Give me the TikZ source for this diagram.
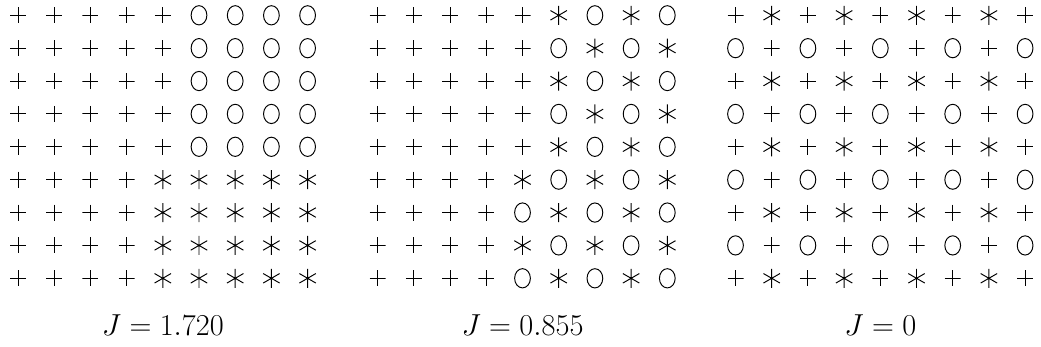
\documentclass[tikz,border=0pt]{standalone}
\usetikzlibrary{shapes.geometric}
\begin{document}
\begin{tikzpicture}[x=0.02cm,y=-0.02cm,
mk/.style={inner sep=0pt,outer sep=0pt,line width=0.55pt},
mp/.style={mk,minimum width=3.2mm,minimum height=3.2mm,
path picture={\draw[line width=0.55pt] (path picture bounding box.west)--(path picture bounding box.east)
(path picture bounding box.north)--(path picture bounding box.south);}},
mo/.style={mk,draw,ellipse,minimum width=3.15mm,minimum height=3.85mm},
ma/.style={mk,minimum width=3.4mm,minimum height=3.8mm,
path picture={\draw[line width=0.55pt,shift={(path picture bounding box.center)}]
(90:1.9mm)--(270:1.9mm) (30:1.9mm)--(210:1.9mm) (150:1.9mm)--(330:1.9mm);}},
lab/.style={anchor=base,font=\fontsize{18}{20}\selectfont}]
\useasboundingbox (0,0) rectangle (1041,347);
% J = 1.720
\foreach \row [count=\r] in {{mp,mp,mp,mp,mp,mo,mo,mo,mo},{mp,mp,mp,mp,mp,mo,mo,mo,mo},
{mp,mp,mp,mp,mp,mo,mo,mo,mo},{mp,mp,mp,mp,mp,mo,mo,mo,mo},{mp,mp,mp,mp,mp,mo,mo,mo,mo},
{mp,mp,mp,mp,ma,ma,ma,ma,ma},{mp,mp,mp,mp,ma,ma,ma,ma,ma},{mp,mp,mp,mp,ma,ma,ma,ma,ma},
{mp,mp,mp,mp,ma,ma,ma,ma,ma}}
\foreach \s [count=\c] in \row
\node[\s] (a-\r-\c) at ({18+(\c-1)*36.2},{15.3+(\r-1)*32.875}) {};
% J = 0.855
\foreach \row [count=\r] in {{mp,mp,mp,mp,mp,ma,mo,ma,mo},{mp,mp,mp,mp,mp,mo,ma,mo,ma},
{mp,mp,mp,mp,mp,ma,mo,ma,mo},{mp,mp,mp,mp,mp,mo,ma,mo,ma},{mp,mp,mp,mp,mp,ma,mo,ma,mo},
{mp,mp,mp,mp,ma,mo,ma,mo,ma},{mp,mp,mp,mp,mo,ma,mo,ma,mo},{mp,mp,mp,mp,ma,mo,ma,mo,ma},
{mp,mp,mp,mp,mo,ma,mo,ma,mo}}
\foreach \s [count=\c] in \row
\node[\s] (b-\r-\c) at ({377.7+(\c-1)*36.2},{15.3+(\r-1)*32.875}) {};
% J = 0
\foreach \row [count=\r] in {{mp,ma,mp,ma,mp,ma,mp,ma,mp},{mo,mp,mo,mp,mo,mp,mo,mp,mo},
{mp,ma,mp,ma,mp,ma,mp,ma,mp},{mo,mp,mo,mp,mo,mp,mo,mp,mo},{mp,ma,mp,ma,mp,ma,mp,ma,mp},
{mo,mp,mo,mp,mo,mp,mo,mp,mo},{mp,ma,mp,ma,mp,ma,mp,ma,mp},{mo,mp,mo,mp,mo,mp,mo,mp,mo},
{mp,ma,mp,ma,mp,ma,mp,ma,mp}}
\foreach \s [count=\c] in \row
\node[\s] (c-\r-\c) at ({735.5+(\c-1)*36.2},{15.3+(\r-1)*32.875}) {};
\node[lab] (ja) at (162.8,336) {$J=1.720$};
\node[lab] (jb) at (522.5,336) {$J=0.855$};
\node[lab] (jc) at (880.3,336) {$J=0$};
\end{tikzpicture}
\end{document}
